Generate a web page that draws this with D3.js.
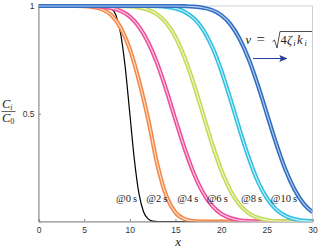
<!DOCTYPE html>
<html><head><meta charset="utf-8">
<script src="https://cdn.jsdelivr.net/npm/d3@7"></script>
<style>body{margin:0;background:#fff}svg{display:block}</style>
</head><body>
<svg id="c" width="320" height="249"></svg>
<script>
// ---- data ----
const xGrid = [0,1,2,3,4,5,6,7,8,9,10,11,12,13,14,15,16,17,18,19,20,21,22,23,24,25,26,27,28,29,30];
const blackX = [0,6,7,7.5,8,8.5,9,9.5,10,10.5,11,11.5,12,12.5,13,14,30];
const blackC = [1,1,1,0.998,0.988,0.955,0.871,0.714,0.5,0.286,0.129,0.045,0.012,0.002,0,0,0];
const orangeC = [1,1,1,1,1,0.999,0.995,0.984,0.957,0.899,0.800,0.654,0.477,0.267,0.118,0.041,0.011,0.002,0,0,0,0,0,0,0,0,0,0,0,0,0];
const pinkC   = [1,1,1,1,1,1,0.999,0.996,0.990,0.977,0.951,0.904,0.832,0.733,0.609,0.472,0.339,0.224,0.135,0.074,0.036,0.016,0.006,0.002,0,0,0,0,0,0,0];
const greenC  = [1,1,1,1,1,1,1,1,1,0.999,0.998,0.993,0.983,0.961,0.921,0.856,0.760,0.638,0.5,0.362,0.240,0.144,0.079,0.039,0.017,0.007,0.002,0.001,0,0,0];
const cyanC   = [1,1,1,1,1,1,1,1,1,1,1,1,1,0.999,0.996,0.989,0.973,0.943,0.892,0.812,0.702,0.570,0.430,0.298,0.188,0.108,0.057,0.027,0.011,0.004,0.001];
const blueC   = [1,1,1,1,1,1,1,1,1,1,1,1,1,1,1,1,0.999,0.997,0.992,0.981,0.958,0.916,0.849,0.755,0.635,0.5,0.365,0.245,0.151,0.084,0.043];
const timeLabels = ["@0\u2009s","@2\u2009s","@4\u2009s","@6\u2009s","@8\u2009s","@10\u2009s"];
const labelX = [9.65,12.95,16.35,19.57,23.33,26.87];
const xTicks = [0,5,10,15,20,25,30];
const yTicks = [0.5,1];

// ---- layout ----
const svg = d3.select("#c");
const L = 38.5, R = 312.5, T = 6, B = 221.5;
const x = d3.scaleLinear().domain([0,30]).range([L,R]);
const y = d3.scaleLinear().domain([0,1]).range([B,T]);

// frame
svg.append("rect").attr("x",L).attr("y",T).attr("width",R-L).attr("height",B-T)
  .attr("fill","none").attr("stroke","#cfcfcf").attr("stroke-width",1);

// x axis
const gx = svg.append("g").attr("transform",`translate(0,${B})`)
  .call(d3.axisBottom(x).tickValues(xTicks).tickSize(-2.5).tickPadding(5).tickFormat(d3.format("d")));
gx.select(".domain").attr("stroke","#8a8a8a");
gx.selectAll(".tick line").attr("stroke","#8a8a8a");
gx.selectAll("text").attr("font-family","Liberation Sans, Arial, sans-serif").attr("font-size","8.5px").attr("fill","#333");

// y axis
const gy = svg.append("g").attr("transform",`translate(${L},0)`)
  .call(d3.axisLeft(y).tickValues(yTicks).tickSize(-2.5).tickPadding(4).tickFormat(d=>d===1?"1":"0.5"));
gy.select(".domain").attr("stroke","#8a8a8a");
gy.selectAll(".tick line").attr("stroke","#8a8a8a");
gy.selectAll("text").attr("font-family","Liberation Sans, Arial, sans-serif").attr("font-size","8.5px").attr("fill","#333");

// clip
svg.append("clipPath").attr("id","clip").append("rect").attr("x",L).attr("y",T-3).attr("width",R-L).attr("height",B-T+3);
const plot = svg.append("g").attr("clip-path","url(#clip)");

const line = d3.line().x(d=>x(d[0])).y(d=>y(d[1])).curve(d3.curveMonotoneX);

plot.append("path").datum(blackX.map((v,i)=>[v,blackC[i]]))
  .attr("d",line).attr("fill","none").attr("stroke","#000").attr("stroke-width",1.2);

const series = [
  {c:orangeC, col:"#f4884a", inner:"#fde0cc"},
  {c:pinkC,   col:"#ee4f9c", inner:"#fcd3e6"},
  {c:greenC,  col:"#c3da55", inner:"#f1f7d4"},
  {c:cyanC,   col:"#2fc0e0", inner:"#cdeff8"},
  {c:blueC,   col:"#2f6ec0", inner:"#b9d0ef"}
];
series.forEach(s=>{
  const d = xGrid.map((v,i)=>[v,s.c[i]]);
  plot.append("path").datum(d).attr("d",line).attr("fill","none").attr("stroke",s.col).attr("stroke-width",4.2);
  plot.append("path").datum(d).attr("d",line).attr("fill","none").attr("stroke",s.inner).attr("stroke-width",1.1);
});

const ff = "Liberation Serif, Times New Roman, serif";
// time labels
svg.selectAll(".tl").data(timeLabels).enter().append("text")
  .attr("x",(d,i)=>x(labelX[i])).attr("y",201.5)
  .attr("text-anchor","middle").attr("font-family",ff)
  .attr("font-size","10.5px").attr("fill","#222").text(d=>d);

// formula
const fg = svg.append("g").attr("font-family",ff).attr("fill","#222").attr("font-size","12.5px");
fg.append("text").attr("x",245.5).attr("y",43.5).attr("font-style","italic").text("v");
fg.append("text").attr("x",256.5).attr("y",43.5).attr("font-size","15px").attr("textLength",10).text("=");
svg.append("path").attr("d","M272.5,41.5 L274.5,40 L277,48 L280,31.5 L312,31.5")
  .attr("fill","none").attr("stroke","#222").attr("stroke-width",0.8);
fg.append("text").attr("x",280.5).attr("y",43.5).text("4");
fg.append("text").attr("x",287).attr("y",43.5).attr("font-style","italic").text("ζ");
fg.append("text").attr("x",293.2).attr("y",45.5).attr("font-style","italic").attr("font-size","8.5px").text("i");
fg.append("text").attr("x",297).attr("y",43.5).attr("font-style","italic").text("k");
fg.append("text").attr("x",304.5).attr("y",45.5).attr("font-style","italic").attr("font-size","8.5px").text("i");

// arrow
svg.append("defs").append("marker").attr("id","ah").attr("viewBox","0 0 10 10").attr("refX",9).attr("refY",5)
  .attr("markerWidth",8).attr("markerHeight",7).attr("markerUnits","userSpaceOnUse").attr("orient","auto")
  .attr("preserveAspectRatio","none")
  .append("path").attr("d","M0,0 L10,5 L0,10 L2,5 z").attr("fill","#2b3f9e");
svg.append("line").attr("x1",253).attr("y1",58.5).attr("x2",286.5).attr("y2",58.5)
  .attr("stroke","#2b3f9e").attr("stroke-width",1.2).attr("marker-end","url(#ah)");

// y label fraction
const yl = svg.append("g").attr("font-family",ff).attr("font-size","12.5px").attr("fill","#222");
const a = yl.append("text").attr("x",2).attr("y",107.5);
a.append("tspan").attr("font-style","italic").text("C");
a.append("tspan").attr("font-style","italic").attr("font-size","8px").attr("dy",2).text("i");
yl.append("line").attr("x1",1.5).attr("x2",15.5).attr("y1",111.5).attr("y2",111.5).attr("stroke","#222").attr("stroke-width",0.7);
const b = yl.append("text").attr("x",2).attr("y",122);
b.append("tspan").attr("font-style","italic").text("C");
b.append("tspan").attr("font-size","8px").attr("dy",2).text("0");

// x label
svg.append("text").attr("x",x(15.3)).attr("y",245.5).attr("text-anchor","middle")
  .attr("font-family",ff).attr("font-style","italic").attr("font-size","13px").attr("fill","#222").text("x");
</script>
</body></html>
